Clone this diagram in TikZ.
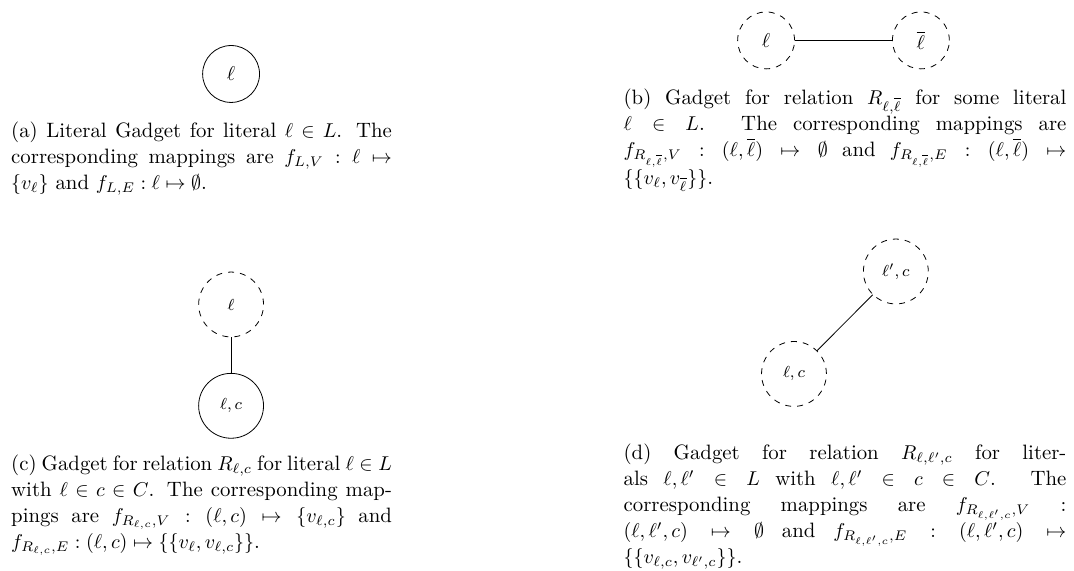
\documentclass[tikz,border=0pt]{standalone}
\usetikzlibrary{positioning}

\begin{document}
\begin{tikzpicture}[
			vtx/.style={circle, draw, minimum size=1cm, inner sep=0pt},
			dvtx/.style={vtx, dashed},
			bigvtx/.style={vtx, minimum size=1.14cm, font=\footnotesize},
			bigdvtx/.style={bigvtx, dashed},
			capleft/.style={anchor=north west, inner sep=0pt, text width=6.69cm, align=justify, font=\fontsize{10.4}{13}\selectfont},
			capright/.style={capleft, text width=7.78cm}
			]
			\useasboundingbox (0,0) rectangle (18.87,10.02);
			
			% (a) literal gadget
			\node[vtx] (lit) at (4.06, 8.72) {$\ell$};
			\node[capleft] (capa) at (0.19, 7.89) {(a) Literal Gadget for literal $\ell \in L$. The\linebreak corresponding mappings are $f_{L,V} : \ell \mapsto$\linebreak $\{v_\ell\}$ and $f_{L,E} : \ell \mapsto \emptyset$.};
			
			% (b) relation between a literal and its negation
			\node[dvtx] (pos) at (13.46, 9.31) {$\ell$};
			\node[dvtx] (neg) at (16.18, 9.31) {$\overline{\ell}$};
			\draw (pos) -- (neg);
			\node[capright] (capb) at (10.95, 8.47) {(b) Gadget for relation $R_{\ell,\overline{\ell}}$ for some literal\linebreak $\ell \in L$. The corresponding mappings are\linebreak $f_{R_{\ell,\overline{\ell}},V} : (\ell,\overline{\ell}) \mapsto \emptyset$ and $f_{R_{\ell,\overline{\ell}},E} : (\ell,\overline{\ell}) \mapsto$\linebreak $\{\{v_\ell, v_{\overline{\ell}}\}\}$.};
			
			% (c) relation between a literal and a clause
			\node[bigdvtx] (top) at (4.06, 4.67) {$\ell$};
			\node[bigvtx] (litcl) at (4.06, 2.89) {$\ell, c$};
			\draw (top) -- (litcl);
			\node[capleft] (capc) at (0.19, 2.04) {(c)~Gadget~for~relation~$R_{\ell,c}$~for~literal~$\ell \in L$\linebreak with $\ell \in c \in C$. The corresponding map-\linebreak pings are $f_{R_{\ell,c},V} : (\ell,c) \mapsto \{v_{\ell,c}\}$ and\linebreak $f_{R_{\ell,c},E} : (\ell,c) \mapsto \{\{v_\ell, v_{\ell,c}\}\}$.};
			
			% (d) relation between two literals of one clause
			\node[bigdvtx] (lc) at (13.95, 3.45) {$\ell, c$};
			\node[bigdvtx] (lpc) at (15.74, 5.25) {$\ell', c$};
			\draw (lc) -- (lpc);
			\node[capright] (capd) at (10.95, 2.23) {(d) Gadget for relation $R_{\ell,\ell',c}$ for liter-\linebreak als $\ell,\ell' \in L$ with $\ell,\ell' \in c \in C$. The\linebreak corresponding mappings are $f_{R_{\ell,\ell',c},V}$ :\linebreak $(\ell,\ell',c) \mapsto \emptyset$ and $f_{R_{\ell,\ell',c},E} : (\ell,\ell',c) \mapsto$\linebreak $\{\{v_{\ell,c}, v_{\ell',c}\}\}$.};
			
		\end{tikzpicture}
\end{document}
